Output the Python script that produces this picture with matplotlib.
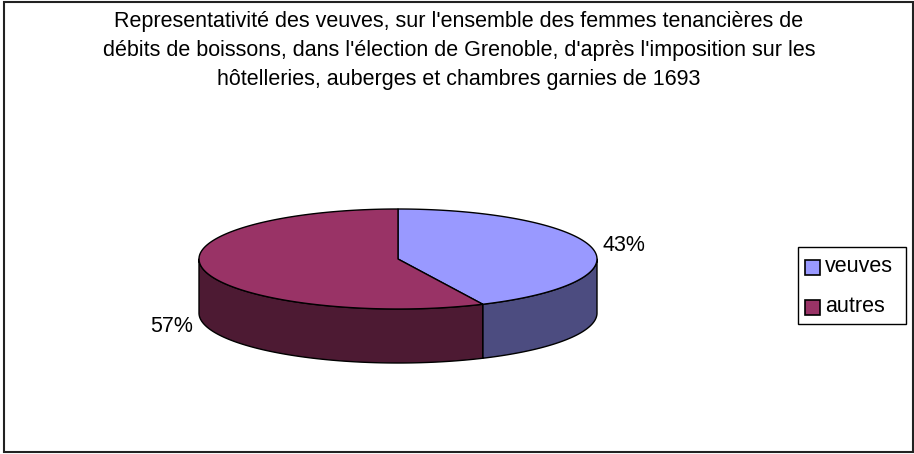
import numpy as np
import matplotlib
matplotlib.use("Agg")
import matplotlib.pyplot as plt
from matplotlib.patches import Polygon, Rectangle

plt.rcParams['font.family'] = ['Liberation Sans', 'DejaVu Sans']

title = ("Representativité des veuves, sur l'ensemble des femmes tenancières de\n"
         "débits de boissons, dans l'élection de Grenoble, d'après l'imposition sur les\n"
         "hôtelleries, auberges et chambres garnies de 1693")
categories = ["veuves", "autres"]
values = [43, 57]
top_colors = ["#9999FF", "#993366"]
side_colors = ["#4C4C80", "#4D1A33"]

W, H = 914, 454
fig = plt.figure(figsize=(W / 100, H / 100), dpi=100)
ax = fig.add_axes([0, 0, 1, 1])
ax.set_xlim(0, W)
ax.set_ylim(H, 0)
ax.axis('off')

# outer frame
ax.add_patch(Rectangle((3.5, 1.5), 909, 450.5, fill=False, edgecolor='#222222', lw=1.5))

ax.text(459, 50.5, title, ha='center', va='center', fontsize=15.5, linespacing=1.53)

# 3D pie geometry
cx, cy, a, b, depth = 398, 259, 199, 50, 54
total = float(sum(values))
start = 90.0
angles = []
cur = start
for v in values:
    ext = 360.0 * v / total
    angles.append((cur - ext, cur))
    cur -= ext

def pt(t, dy=0.0):
    r = np.radians(t)
    return cx + a * np.cos(r), cy - b * np.sin(r) + dy

# side walls (front half)
for (t0, t1), sc in zip(angles, side_colors):
    lo, hi = t0 % 360, t1 % 360
    if hi <= lo:
        hi += 360
    for base in (0, 360, -360):
        s0 = max(lo, 180 + base)
        s1 = min(hi, 360 + base)
        if s1 > s0:
            ts = np.linspace(s0, s1, 200)
            top = [pt(t) for t in ts]
            bot = [pt(t, depth) for t in ts[::-1]]
            ax.add_patch(Polygon(top + bot, closed=True, facecolor=sc,
                                 edgecolor='black', lw=1.0, joinstyle='round'))

# top faces
for (t0, t1), tc in zip(angles, top_colors):
    ts = np.linspace(t1, t0, 300)
    poly = [(cx, cy)] + [pt(t) for t in ts]
    ax.add_patch(Polygon(poly, closed=True, facecolor=tc,
                         edgecolor='black', lw=1.0, joinstyle='round'))

# percentage labels
for (t0, t1), v in zip(angles, values):
    mid = np.radians((t0 + t1) / 2)
    c, s = np.cos(mid), np.sin(mid)
    lx = cx + (a + 10) * c + 22 * np.sign(c)
    ly = cy - (b + 10) * s + (depth if s < 0 else 0)
    ax.text(lx, ly, f"{v}%", ha='center', va='center', fontsize=15.5)

# legend
lx0, ly0, lw_, lh_ = 798, 247, 108, 77
ax.add_patch(Rectangle((lx0, ly0), lw_, lh_, fill=False, edgecolor='black', lw=1.0))
for i, (cat, col) in enumerate(zip(categories, top_colors)):
    yc = ly0 + 20 + 40 * i
    ax.add_patch(Rectangle((lx0 + 7, yc - 7.5), 15, 15, facecolor=col,
                           edgecolor='black', lw=1.2))
    ax.text(lx0 + 27, yc, cat, ha='left', va='center', fontsize=15.5)

fig.savefig("out.png", dpi=100)
